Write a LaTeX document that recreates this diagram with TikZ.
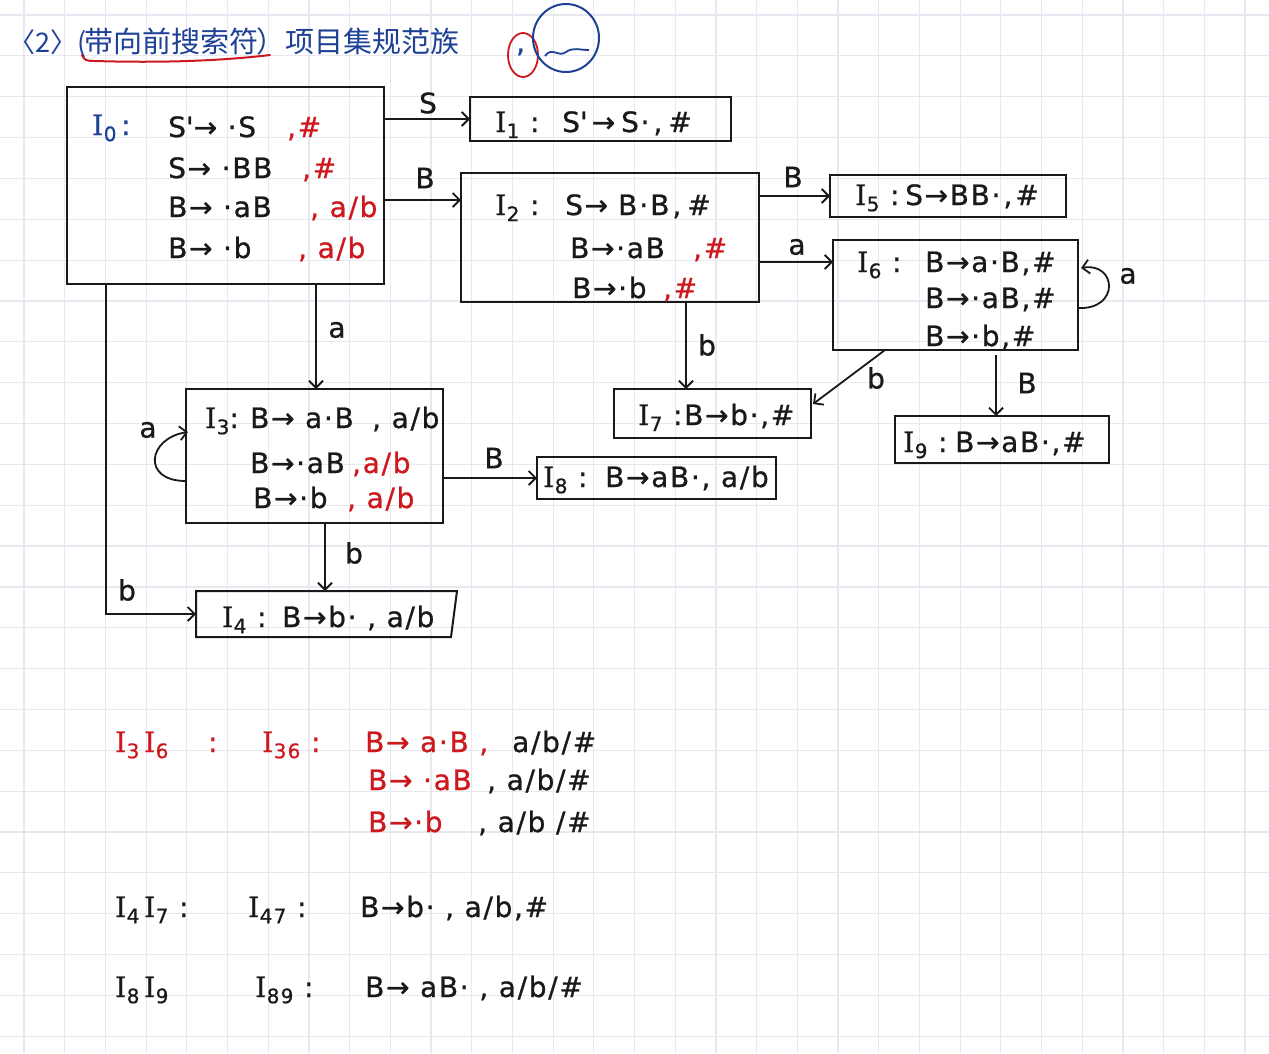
\documentclass[tikz,border=0pt]{standalone}
\usepackage{fontspec}
\setmainfont{DejaVu Sans}[LetterSpace=6,FakeBold=0.8]
\newfontfamily\cjk{Noto Sans CJK SC}
\newfontfamily\iserif{DejaVu Serif}[FakeBold=0.8]
\usetikzlibrary{arrows.meta,calc}
\definecolor{ink}{RGB}{25,25,25}
\definecolor{inkred}{RGB}{205,25,30}
\definecolor{inkblue}{RGB}{30,65,150}
\definecolor{gridc}{RGB}{232,232,240}
\newcommand{\Iset}[1]{{\iserif I}\kern0.5pt\raisebox{-0.22em}{\fontsize{20}{20}\selectfont #1}}
\tikzset{
  box/.style={draw=ink, line width=2pt, inner sep=0pt, outer sep=0pt, anchor=north west},
  tx/.style={font=\fontsize{28}{32}\selectfont, inner sep=0pt, anchor=base west, text=ink},
  rtx/.style={tx, text=inkred},
  lbl/.style={font=\fontsize{28}{32}\selectfont, inner sep=0pt, text=ink},
  arr/.style={draw=ink, line width=1.8pt, -{Straight Barb[length=7pt,width=14pt]}},
  gridline/.style={draw=gridc, line width=1.2pt}
}
\begin{document}
\begin{tikzpicture}[x=1pt,y=-1pt]
\useasboundingbox (0,0) rectangle (1269,1053);
\fill[white] (0,0) rectangle (1269,1053);
\foreach \k in {0,...,30} \draw[gridline] ({24+40.7*\k},0) -- ({24+40.7*\k},1053);
\foreach \k in {0,...,25} \draw[gridline] (0,{15+40.85*\k}) -- (1269,{15+40.85*\k});

% title
\node[tx, text=inkblue, font=\cjk\fontsize{27}{30}\selectfont] (t1) at (8,52) {〈2〉(};
\node[tx, text=inkblue, font=\cjk\fontsize{29}{32}\selectfont] (t2) at (84,52) {带向前搜索符};
\node[tx, text=inkblue, font=\cjk\fontsize{29}{32}\selectfont] (t3) at (256,52) {）项目集规范族};
\draw[inkred, line width=2pt, line cap=round] (82,55) .. controls (84,60) and (86,61) .. (95,61) .. controls (160,63) and (220,61) .. (270,55);
% doodle
\draw[inkred, line width=1.8pt] (523,55) ellipse [x radius=15, y radius=22];
\draw[inkblue, line width=2pt] (566,38) ellipse [x radius=33, y radius=34];
\node[tx, text=inkblue] (cm) at (516,52) {,};
\draw[inkblue, line width=1.8pt] (545,56) .. controls (552,46) and (558,58) .. (566,52) .. controls (573,47) and (579,50) .. (589,50);

% boxes
\node[box, minimum width=317pt, minimum height=197pt] (I0) at (67,87) {};
\node[box, minimum width=261pt, minimum height=44pt] (I1) at (470,97) {};
\node[box, minimum width=298pt, minimum height=129pt] (I2) at (461,173) {};
\node[box, minimum width=236pt, minimum height=42pt] (I5) at (830,175) {};
\node[box, minimum width=245pt, minimum height=110pt] (I6) at (833,240) {};
\node[box, minimum width=197pt, minimum height=49pt] (I7) at (614,389) {};
\node[box, minimum width=214pt, minimum height=47pt] (I9) at (895,416) {};
\node[box, minimum width=257pt, minimum height=134pt] (I3) at (186,389) {};
\node[box, minimum width=239pt, minimum height=42pt] (I8) at (537,457) {};
\node[box, draw=none, minimum width=261pt, minimum height=46pt] (I4) at (196,591) {};
\draw[ink, line width=2pt] (I4.north west) -- (I4.north east) -- ($(I4.south east)+(-6,0)$) -- (I4.south west) -- cycle;

% I0 text
\node[tx, text=inkblue] (i0l) at (92,135) {\Iset{0}\,:};
\node[tx] (i0a) at (168,137) {S\textquotesingle→ ·S};
\node[rtx] (i0ar) at (287,137) {,\#};
\node[tx] (i0b) at (168,178) {S→ ·BB};
\node[rtx] (i0br) at (302,178) {,\#};
\node[tx] (i0c) at (168,217) {B→ ·aB};
\node[rtx] (i0cr) at (310,217) {, a/b};
\node[tx] (i0d) at (168,258) {B→ ·b};
\node[rtx] (i0dr) at (298,258) {, a/b};
% I1
\node[tx] (i1l) at (495,132) {\Iset{1} :};
\node[tx] (i1a) at (562,132) {S\textquotesingle\hspace{4pt}→\hspace{6pt}S·\hspace{4pt},\hspace{6pt}\#};
% I2
\node[tx] (i2l) at (495,215) {\Iset{2} :};
\node[tx] (i2a) at (565,215) {S→\hspace{10pt}B\hspace{2pt}·\hspace{2pt}B\hspace{3pt},\hspace{6pt}\#};
\node[tx] (i2b) at (570,258) {B→·aB};
\node[rtx] (i2br) at (693,258) {,\#};
\node[tx] (i2c) at (572,298) {B→·b};
\node[rtx] (i2cr) at (663,298) {,\#};
% I5
\node[tx] (i5l) at (855,205) {\Iset{5} :};
\node[tx] (i5a) at (905,205) {S→BB·\hspace{3pt},\hspace{3pt}\#};
% I6
\node[tx] (i6l) at (857,272) {\Iset{6} :};
\node[tx] (i6a) at (925,272) {B→a·B,\#};
\node[tx] (i6b) at (925,308) {B→·aB,\#};
\node[tx] (i6c) at (925,346) {B→·b,\#};
% I7
\node[tx] (i7l) at (638,425) {\Iset{7} :};
\node[tx] (i7a) at (684,425) {B→b·,\#};
% I9
\node[tx] (i9l) at (903,452) {\Iset{9} :};
\node[tx] (i9a) at (955,452) {B→aB·,\#};
% I3
\node[tx] (i3l) at (205,428) {\Iset{3}:};
\node[tx] (i3a) at (250,428) {B→ a·B};
\node[tx] (i3ar) at (372,428) {, a/b};
\node[tx] (i3b) at (250,473) {B→·aB};
\node[rtx] (i3br) at (352,473) {,a/b};
\node[tx] (i3c) at (253,508) {B→·b};
\node[rtx] (i3cr) at (347,508) {, a/b};
% I8
\node[tx] (i8l) at (543,487) {\Iset{8} :};
\node[tx] (i8a) at (605,487) {B→aB·, a/b};
% I4
\node[tx] (i4l) at (222,627) {\Iset{4} :};
\node[tx] (i4a) at (282,627) {B→b· , a/b};

% connectors
\draw[arr] (I0.east |- I1.west) -- (I1.west);
\coordinate (c02) at ($(I2.north west)+(0,27)$);
\draw[arr] (I0.east |- c02) -- (c02);
\draw[arr] ($(I0.south west)+(249,0)$) -- ($(I3.north west)+(130,0)$);
\draw[arr] ($(I0.south west)+(39,0)$) |- (I4.west);
\draw[arr] ($(I3.south west)+(139,0)$) -- ($(I4.north west)+(129,0)$);
\draw[arr] (I3.east |- I8.west) -- (I8.west);
\draw[arr] (I2.east |- I5.west) -- (I5.west);
\coordinate (c26) at ($(I6.north west)+(0,22)$);
\draw[arr] (I2.east |- c26) -- (c26);
\draw[arr] ($(I2.south west)+(225,0)$) -- ($(I7.north west)+(72,0)$);
\draw[arr] ($(I6.south west)+(52,0)$) -- ($(I7.north east)+(2,15)$);
\draw[arr] ($(I6.south west)+(163,5)$) -- ($(I9.north west)+(101,0)$);
\draw[arr] ($(I6.east)+(0,13)$) .. controls +(42,2) and +(36,-6) .. ($(I6.east)+(3,-27)$);
\draw[arr] ($(I3.west)+(0,25)$) .. controls +(-45,0) and +(-40,6) .. ($(I3.west)+(2,-24)$);

% labels
\node[lbl] (l1) at (428,103) {S};
\node[lbl] (l2) at (425,178) {B};
\node[lbl] (l3) at (337,330) {a};
\node[lbl] (l4) at (127,590) {b};
\node[lbl] (l5) at (793,177) {B};
\node[lbl] (l6) at (797,247) {a};
\node[lbl] (l7) at (1128,276) {a};
\node[lbl] (l8) at (707,345) {b};
\node[lbl] (l9) at (876,378) {b};
\node[lbl] (l10) at (1027,383) {B};
\node[lbl] (l11) at (148,430) {a};
\node[lbl] (l12) at (494,458) {B};
\node[lbl] (l13) at (354,553) {b};

% bottom
\node[rtx] (b1a) at (115,752) {\Iset{3}\,\Iset{6}};
\node[rtx] (b1b) at (208,752) {:};
\node[rtx] (b1c) at (262,752) {\Iset{36} :};
\node[rtx] (b1d) at (365,752) {B→ a·B ,};
\node[tx] (b1e) at (512,752) {a/b/\#};
\node[rtx] (b2a) at (368,790) {B→ ·aB};
\node[tx] (b2b) at (487,790) {, a/b/\#};
\node[rtx] (b3a) at (368,832) {B→·b};
\node[tx] (b3b) at (478,832) {, a/b /\#};
\node[tx] (b4a) at (115,917) {\Iset{4}\,\Iset{7} :};
\node[tx] (b4b) at (248,917) {\Iset{47} :};
\node[tx] (b4c) at (360,917) {B→b· , a/b,\#};
\node[tx] (b5a) at (115,997) {\Iset{8}\,\Iset{9}};
\node[tx] (b5b) at (255,997) {\Iset{89} :};
\node[tx] (b5c) at (365,997) {B→ aB· , a/b/\#};
\end{tikzpicture}
\end{document}
